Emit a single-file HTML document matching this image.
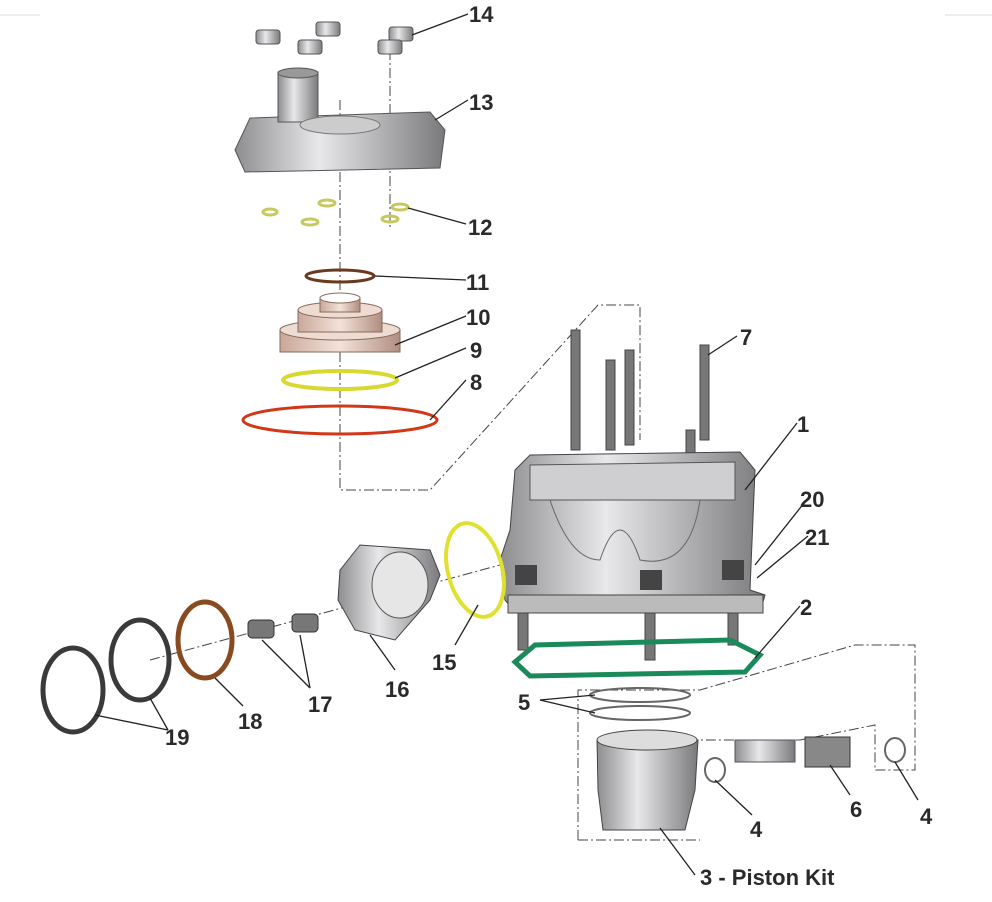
<!DOCTYPE html>
<html><head><meta charset="utf-8"><style>
html,body{margin:0;padding:0;background:#fff;}
svg{display:block;}
text{font-family:"Liberation Sans",sans-serif;font-weight:bold;font-size:22px;fill:#2a2a2a;}
</style></head><body>
<svg width="992" height="902" viewBox="0 0 992 902" xmlns="http://www.w3.org/2000/svg">
<defs>
<linearGradient id="metal" x1="0" y1="0" x2="1" y2="0">
<stop offset="0" stop-color="#8d8d8f"/><stop offset="0.4" stop-color="#e8e8ea"/><stop offset="1" stop-color="#7a7a7c"/></linearGradient>
<linearGradient id="pink" x1="0" y1="0" x2="1" y2="0">
<stop offset="0" stop-color="#c9a89a"/><stop offset="0.5" stop-color="#f4e2da"/><stop offset="1" stop-color="#b08e80"/></linearGradient>
</defs>
<line x1="0" y1="15" x2="40" y2="15" stroke="#ddd"/>
<line x1="945" y1="15" x2="992" y2="15" stroke="#ddd"/>
<g fill="none" stroke="#444" stroke-width="1" stroke-dasharray="10,3,2,3">
<polyline points="340,100 340,490 430,490 598,305 640,305 640,440"/>
<line x1="390" y1="50" x2="390" y2="230"/>
<polyline points="578,840 578,690 700,690 855,645 915,645 915,770 875,770 875,725 800,740 700,740"/>
<line x1="578" y1="840" x2="700" y2="840"/>
<line x1="150" y1="660" x2="500" y2="565"/>
</g>
<!-- nuts 14 -->
<g fill="url(#metal)" stroke="#555">
<rect x="256" y="30" width="24" height="14" rx="3"/><rect x="316" y="22" width="24" height="14" rx="3"/>
<rect x="298" y="40" width="24" height="14" rx="3"/><rect x="389" y="27" width="24" height="14" rx="3"/>
<rect x="378" y="40" width="24" height="14" rx="3"/>
</g>
<!-- head 13 -->
<path d="M235,150 L250,118 L430,112 L445,130 L440,168 L245,172 Z" fill="url(#metal)" stroke="#555"/>
<rect x="278" y="72" width="40" height="50" fill="url(#metal)" stroke="#555"/>
<ellipse cx="298" cy="73" rx="20" ry="5" fill="#999" stroke="#555"/>
<ellipse cx="340" cy="125" rx="40" ry="9" fill="#ccc" stroke="#777"/>
<!-- washers 12 -->
<g fill="none" stroke="#c8c860" stroke-width="3">
<ellipse cx="270" cy="212" rx="7" ry="3"/><ellipse cx="327" cy="203" rx="8" ry="3"/>
<ellipse cx="310" cy="222" rx="8" ry="3"/><ellipse cx="400" cy="207" rx="8" ry="3"/><ellipse cx="390" cy="219" rx="8" ry="3"/>
</g>
<ellipse cx="340" cy="276" rx="34" ry="6" fill="none" stroke="#6a3a20" stroke-width="3"/>
<!-- 10 -->
<rect x="280" y="330" width="120" height="22" fill="url(#pink)" stroke="#8a6a5e"/>
<ellipse cx="340" cy="330" rx="60" ry="10" fill="#eedcd2" stroke="#8a6a5e"/>
<rect x="298" y="310" width="84" height="22" fill="url(#pink)" stroke="#8a6a5e"/>
<ellipse cx="340" cy="310" rx="42" ry="8" fill="#eedcd2" stroke="#8a6a5e"/>
<rect x="320" y="298" width="40" height="14" fill="url(#pink)" stroke="#8a6a5e"/>
<ellipse cx="340" cy="298" rx="20" ry="5" fill="#fff" stroke="#8a6a5e"/>
<ellipse cx="340" cy="380" rx="57" ry="9" fill="none" stroke="#d8d830" stroke-width="4"/>
<ellipse cx="340" cy="420" rx="97" ry="14" fill="none" stroke="#d03818" stroke-width="3"/>
<!-- studs 7 -->
<g fill="#777" stroke="#444">
<rect x="571" y="330" width="9" height="120"/><rect x="606" y="360" width="9" height="90"/>
<rect x="625" y="350" width="9" height="95"/><rect x="700" y="345" width="9" height="95"/>
<rect x="686" y="430" width="9" height="40"/>
<rect x="518" y="600" width="10" height="50"/><rect x="645" y="600" width="10" height="60"/><rect x="728" y="600" width="10" height="45"/>
</g>
<!-- cylinder 1 -->
<path d="M515,470 L530,455 L740,452 L755,470 L750,590 L765,595 L760,612 L515,612 L505,600 L500,560 L510,530 Z" fill="url(#metal)" stroke="#444"/>
<path d="M530,465 L735,462 L735,500 L530,500 Z" fill="#cfcfd2" stroke="#555"/>
<path d="M550,500 Q570,560 600,560 Q620,500 640,560 Q690,570 700,500" fill="none" stroke="#666"/>
<rect x="508" y="595" width="255" height="18" fill="#bbb" stroke="#444"/>
<g fill="#444"><rect x="515" y="565" width="22" height="20"/><rect x="640" y="570" width="22" height="20"/><rect x="722" y="560" width="22" height="20"/></g>
<!-- gasket 2 -->
<path d="M515,662 L535,645 L730,640 L760,655 L745,672 L530,676 Z" fill="none" stroke="#1a8a5a" stroke-width="5"/>
<!-- 15 -->
<ellipse cx="475" cy="570" rx="27" ry="48" transform="rotate(-15 475 570)" fill="none" stroke="#e0e030" stroke-width="4"/>
<!-- 16 -->
<path d="M340,570 L360,545 L430,550 L440,575 L430,600 L395,640 L355,630 L338,600 Z" fill="url(#metal)" stroke="#444"/>
<ellipse cx="400" cy="585" rx="28" ry="33" fill="#e6e6e6" stroke="#555"/>
<!-- 17 -->
<g fill="#777" stroke="#333"><rect x="248" y="620" width="26" height="18" rx="4"/><rect x="292" y="614" width="26" height="18" rx="4"/></g>
<ellipse cx="205" cy="640" rx="27" ry="38" fill="none" stroke="#8a4a20" stroke-width="5"/>
<ellipse cx="140" cy="660" rx="29" ry="40" fill="none" stroke="#3a3a3a" stroke-width="5"/>
<ellipse cx="73" cy="690" rx="30" ry="42" fill="none" stroke="#3a3a3a" stroke-width="5"/>
<!-- 5 -->
<ellipse cx="640" cy="695" rx="50" ry="7" fill="none" stroke="#666" stroke-width="2"/>
<ellipse cx="640" cy="713" rx="50" ry="7" fill="none" stroke="#666" stroke-width="2"/>
<!-- piston -->
<path d="M597,740 L698,740 L695,790 L685,830 L603,830 L598,790 Z" fill="url(#metal)" stroke="#444"/>
<ellipse cx="647" cy="740" rx="50" ry="10" fill="#ddd" stroke="#444"/>
<!-- pin, bearing, clips -->
<rect x="735" y="740" width="60" height="22" fill="url(#metal)" stroke="#555"/>
<rect x="805" y="737" width="45" height="30" fill="#888" stroke="#333"/>
<ellipse cx="715" cy="770" rx="10" ry="12" fill="none" stroke="#666" stroke-width="2"/>
<ellipse cx="895" cy="750" rx="10" ry="12" fill="none" stroke="#666" stroke-width="2"/>
<!-- leaders -->
<g stroke="#222" stroke-width="1.3" fill="none">
<line x1="468" y1="14" x2="412" y2="35"/><line x1="468" y1="100" x2="435" y2="120"/>
<line x1="466" y1="224" x2="408" y2="208"/><line x1="466" y1="280" x2="375" y2="276"/>
<line x1="466" y1="316" x2="395" y2="345"/><line x1="466" y1="348" x2="395" y2="378"/>
<line x1="466" y1="380" x2="430" y2="420"/><line x1="737" y1="336" x2="708" y2="355"/>
<line x1="797" y1="423" x2="745" y2="490"/><line x1="808" y1="498" x2="755" y2="565"/>
<line x1="808" y1="536" x2="757" y2="578"/><line x1="800" y1="606" x2="755" y2="658"/>
<line x1="455" y1="645" x2="478" y2="605"/><line x1="395" y1="670" x2="370" y2="635"/>
<line x1="310" y1="688" x2="262" y2="640"/><line x1="310" y1="688" x2="300" y2="635"/>
<line x1="243" y1="706" x2="215" y2="678"/><line x1="168" y1="730" x2="95" y2="715"/><line x1="168" y1="730" x2="150" y2="698"/>
<line x1="540" y1="700" x2="595" y2="695"/><line x1="540" y1="700" x2="595" y2="713"/>
<line x1="752" y1="815" x2="715" y2="780"/><line x1="850" y1="795" x2="830" y2="765"/>
<line x1="918" y1="800" x2="895" y2="762"/><line x1="695" y1="875" x2="660" y2="828"/>
</g>
<text x="469" y="22">14</text><text x="469" y="110">13</text><text x="468" y="235">12</text>
<text x="466" y="290">11</text><text x="466" y="325">10</text><text x="470" y="358">9</text>
<text x="470" y="390">8</text><text x="740" y="345">7</text><text x="797" y="432">1</text>
<text x="800" y="507">20</text><text x="805" y="545">21</text><text x="800" y="615">2</text>
<text x="432" y="670">15</text><text x="385" y="697">16</text><text x="308" y="712">17</text>
<text x="238" y="729">18</text><text x="165" y="745">19</text><text x="518" y="710">5</text>
<text x="750" y="837">4</text><text x="850" y="817">6</text><text x="920" y="824">4</text>
<text x="700" y="885">3 - Piston Kit</text>
</svg>
</body></html>
